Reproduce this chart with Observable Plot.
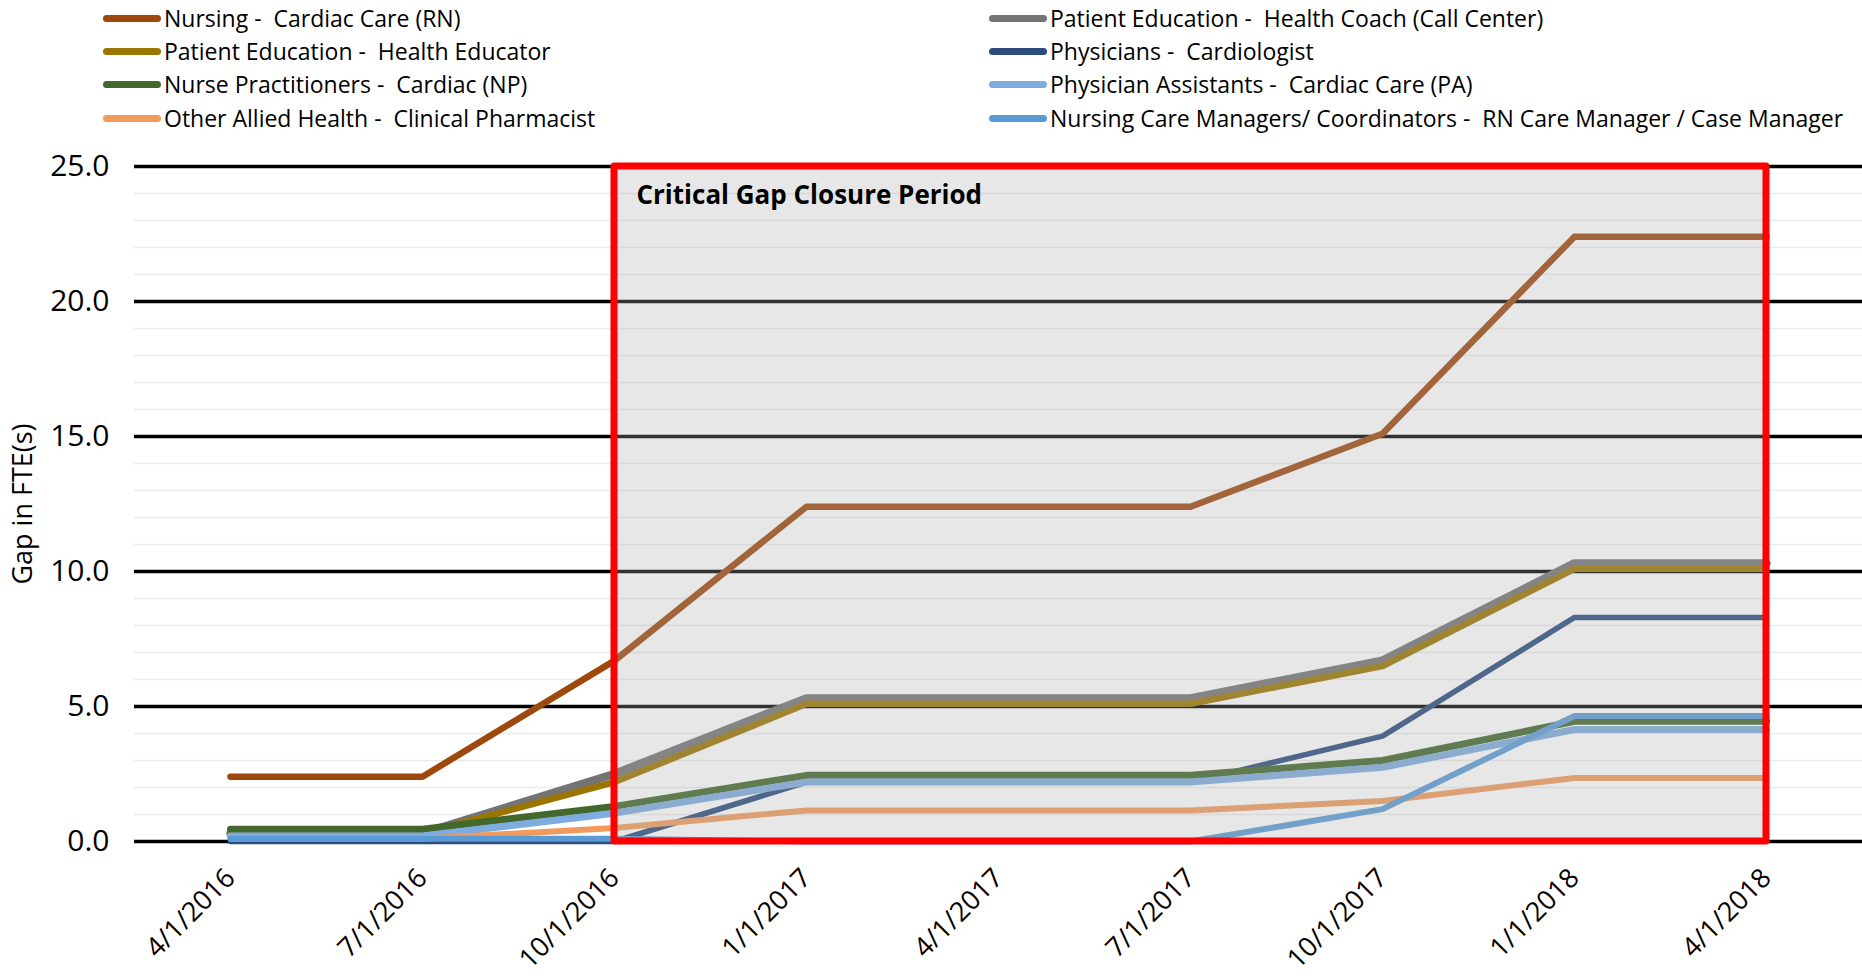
<!DOCTYPE html>
<html><head><meta charset="utf-8">
<script src="https://cdn.jsdelivr.net/npm/d3@7"></script>
<script src="https://cdn.jsdelivr.net/npm/@observablehq/plot@0.6"></script>
<style>
body{margin:0;background:#fff;font-family:"Open Sans",sans-serif;}
#legend{position:relative;height:136px;width:1862px;}
.item{position:absolute;height:32px;display:flex;align-items:center;white-space:pre;font-size:23px;color:#000;}
.sw{width:58px;height:7px;border-radius:4px;margin-right:3px;flex:none;}
#chart svg{display:block}
</style></head><body>
<div id="legend"></div><div id="chart"></div>
<script>
// ---- data ----
const dates = ["4/1/2016","7/1/2016","10/1/2016","1/1/2017","4/1/2017","7/1/2017","10/1/2017","1/1/2018","4/1/2018"];
const seriesNames = [
  "Nursing -  Cardiac Care (RN)",
  "Patient Education -  Health Coach (Call Center)",
  "Patient Education -  Health Educator",
  "Physicians -  Cardiologist",
  "Nurse Practitioners -  Cardiac (NP)",
  "Physician Assistants -  Cardiac Care (PA)",
  "Other Allied Health -  Clinical Pharmacist",
  "Nursing Care Managers/ Coordinators -  RN Care Manager / Case Manager"
];
const nursingRN          = [2.4, 2.4, 6.7, 12.4, 12.4, 12.4, 15.1, 22.4, 22.4];
const healthCoach        = [0.3, 0.3, 2.5, 5.3, 5.3, 5.3, 6.7, 10.3, 10.3];
const healthEducator     = [0.3, 0.3, 2.2, 5.1, 5.1, 5.1, 6.5, 10.1, 10.1];
const cardiologist       = [0.0, 0.0, 0.0, 2.2, 2.2, 2.2, 3.9, 8.3, 8.3];
const nursePractitioner  = [0.45, 0.45, 1.3, 2.45, 2.45, 2.45, 3.0, 4.45, 4.45];
const physicianAssistant = [0.2, 0.2, 1.05, 2.2, 2.2, 2.2, 2.75, 4.15, 4.15];
const pharmacist         = [0.1, 0.1, 0.5, 1.15, 1.15, 1.15, 1.5, 2.35, 2.35];
const careManager        = [0.1, 0.1, 0.1, 0.0, 0.0, 0.0, 1.2, 4.65, 4.65];
const seriesValues = [nursingRN, healthCoach, healthEducator, cardiologist, nursePractitioner, physicianAssistant, pharmacist, careManager];
const yTicks = [0, 5, 10, 15, 20, 25];
const yMinorTicks = [1,2,3,4,6,7,8,9,11,12,13,14,16,17,18,19,21,22,23,24];
const periodStart = "10/1/2016", periodEnd = "4/1/2018";
const periodLabel = "Critical Gap Closure Period";
const yLabel = "Gap in FTE(s)";

// ---- styles ----
const colors = ["#9E480E", "#747474", "#9A7600", "#2A4B7C", "#43682B", "#7EACDE", "#F19A5E", "#5B9BD5"];
const widths = [6.5, 8.5, 6.5, 5.5, 7, 7, 6, 6];
const legendLeft = [103, 989];
const legendRowY = [18, 51, 84, 118];

// legend
const leg = document.getElementById("legend");
seriesNames.forEach((name, i) => {
  const col = i % 2, row = Math.floor(i / 2);
  const d = document.createElement("div");
  d.className = "item";
  d.style.left = legendLeft[col] + "px";
  d.style.top = (legendRowY[row] - 16) + "px";
  const sw = document.createElement("div");
  sw.className = "sw"; sw.style.background = colors[i];
  const t = document.createElement("span"); t.textContent = name;
  d.appendChild(sw); d.appendChild(t);
  leg.appendChild(d);
});

// long data
const rows = [];
seriesNames.forEach((name, i) => dates.forEach((dt, j) => rows.push({series: name, date: dt, value: seriesValues[i][j]})));

const lineMarks = seriesNames.map((name, i) =>
  Plot.line(rows.filter(r => r.series === name), {x: "date", y: "value", stroke: colors[i], strokeWidth: widths[i], strokeLinecap: "round", strokeLinejoin: "round"})
);

const period = [{x1: periodStart, x2: periodEnd, y1: 0, y2: 25}];

const chart = Plot.plot({
  width: 1862, height: 844,
  marginLeft: 134, marginRight: 0, marginTop: 30, marginBottom: 139,
  x: {type: "point", domain: dates, padding: 0.5},
  y: {domain: [0, 25]},
  style: {fontFamily: "Open Sans", background: "#fff", color: "#000"},
  marks: [
    Plot.ruleY(yMinorTicks, {stroke: "#ebebeb", strokeWidth: 1.4}),
    Plot.ruleY(yTicks, {stroke: "#000", strokeWidth: 3.4}),
    ...lineMarks,
    Plot.rect(period, {x1: "x1", x2: "x2", y1: "y1", y2: "y2", fill: "#ababab", fillOpacity: 0.29}),
    Plot.rect(period, {x1: "x1", x2: "x2", y1: "y1", y2: "y2", fill: "none", stroke: "#ff0000", strokeWidth: 7, strokeLinejoin: "round"}),
    Plot.text(period, {x: "x1", y: "y2", text: () => periodLabel, textAnchor: "start", lineAnchor: "top", dx: 22, dy: 19, fontSize: 26, fontWeight: "bold", fill: "#000"}),
    Plot.axisY({ticks: yTicks, tickFormat: d => d.toFixed(1), tickSize: 0, tickPadding: 25, fontSize: 30, label: null}),
    Plot.axisX({tickRotate: -45, tickSize: 0, tickPadding: 32, fontSize: 27, label: null}),
    Plot.text([yLabel], {frameAnchor: "left", textAnchor: "middle", text: d => d, rotate: -90, dx: -111, fontSize: 27, fill: "#000"})
  ]
});
document.getElementById("chart").appendChild(chart);
</script>
</body></html>
